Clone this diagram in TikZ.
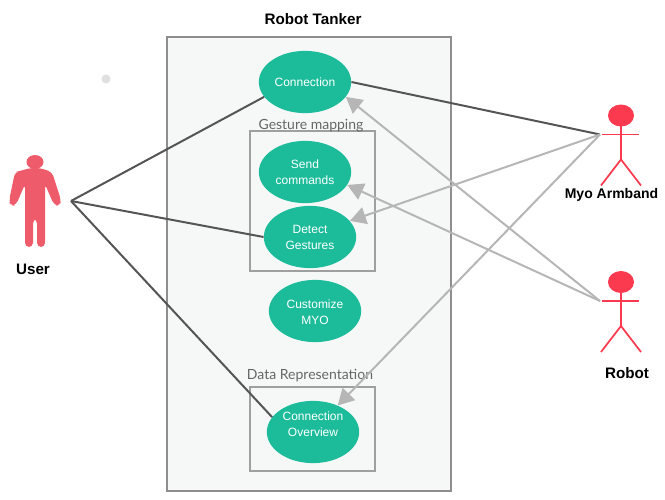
\documentclass[tikz,border=0pt]{standalone}
\usepackage{fontspec}
\setmainfont{Liberation Sans}
\newfontfamily\latofont{Lato}
\usetikzlibrary{arrows.meta,shapes.geometric}
\definecolor{casegreen}{HTML}{1CBC9B}
\definecolor{actorred}{HTML}{FB3A4F}
\definecolor{userred}{HTML}{EE5C6C}
\definecolor{framegray}{HTML}{8E8E8E}
\definecolor{boxgray}{HTML}{9F9F9F}
\definecolor{solidgray}{HTML}{555555}
\definecolor{lightgray}{HTML}{B6B6B6}
\definecolor{framefill}{HTML}{F6F8F8}
\tikzset{
  usecase/.style={ellipse,fill=casegreen,text=white,inner sep=0pt,minimum width=92bp*0.75,
    minimum height=62bp*0.75,align=center,font=\fontsize{9}{12}\selectfont},
  casetext/.style={text=white,inner sep=0pt,align=center,font=\fontsize{9}{12}\selectfont},
  actorname/.style={font=\fontsize{10.5}{12}\selectfont\bfseries},
  titlename/.style={font=\fontsize{11.4}{12}\selectfont\bfseries},
  grouptitle/.style={font=\fontsize{10.5}{12}\selectfont\latofont,text=black!60},
  groupbox/.style={draw=boxgray,line width=1.5pt},
  userline/.style={draw=solidgray,line width=1.5pt},
  myoline/.style={draw=lightgray,line width=1.5pt,-{Triangle[length=12pt,width=13pt]}},
  stick/.style={draw=actorred,line width=1.3pt}
}
% stick figure: name, x, y of the shoulders
\newcommand{\StickActor}[3]{
  \fill[actorred] (#2,#3-19) ellipse [x radius=13,y radius=11];
  \draw[stick] (#2,#3-12) -- (#2,#3+25);
  \draw[stick] (#2-19,#3) -- (#2+18,#3);
  \draw[stick] (#2-20,#3+51) -- (#2,#3+25) -- (#2+20,#3+51);
  \coordinate (#1) at (#2-21,#3);
}
\begin{document}
\begin{tikzpicture}[x=0.75pt,y=-0.75pt]
  \useasboundingbox (0,0) rectangle (665,500);
  \node[titlename] (title) at (313,19) {Robot Tanker};
  \draw[draw=framegray,fill=framefill,line width=1.5pt] (167,37) rectangle (451,491);
  \fill[black!12] (106,79) circle (4.5);

  % groups
  \draw[groupbox] (250,131) rectangle (375,271);
  \draw[groupbox] (250,387) rectangle (375,471);
  \node[grouptitle] (gesture) at (311,125.5) {Gesture mapping};
  \node[grouptitle] (data) at (310,375.5) {Data Representation};

  % use cases
  \node[usecase] (connection) at (305,82) {Connection};
  \node[usecase] (send) at (305,172) {Send\\commands};
  \node[usecase] (detect) at (310,237) {Detect\\Gestures};
  \node[usecase] (customize) at (315,311) {};
  \node[casetext] (customizetext) at (315,312) {Customize\\MYO};
  \node[usecase] (overview) at (313,432) {};
  \node[casetext] (overviewtext) at (313,424) {Connection\\Overview};

  % user figure
  \fill[userred] (35,162) ellipse [x radius=8.5,y radius=7];
  \fill[userred,rounded corners=3.2pt] (20,171) -- (15,172) -- (9,201) -- (11,206) -- (16,205)
    -- (25,184) -- (25,247) -- (33,247) -- (33,219) -- (37,219) -- (37,247) -- (45,247)
    -- (45,184) -- (54,205) -- (60,206) -- (61,200) -- (52,172) -- (40,168) -- (30,168) -- cycle;
  \coordinate (user) at (71,201);
  \node[titlename] (username) at (33,269) {User};

  % stick actors
  \StickActor{myo}{621}{134.5}
  \StickActor{robot}{621}{301}
  \node[actorname] (myoname) at (611.5,195) {Myo Armband};
  \node[titlename] (robotname) at (627,373) {Robot};

  % solid associations
  \draw[userline] (user) -- (connection.200);
  \draw[userline] (user) -- (detect.west);
  \draw[userline] (user) -- (overview.160);
  \draw[userline] (myo) -- (connection.east);

  % arrows to use cases
  \draw[myoline] (myo) -- (detect.22);
  \draw[myoline] (myo) -- (overview.47);
  \draw[myoline] (robot) -- (connection.-20);
  \draw[myoline] (robot) -- (send.-17);
\end{tikzpicture}
\end{document}
